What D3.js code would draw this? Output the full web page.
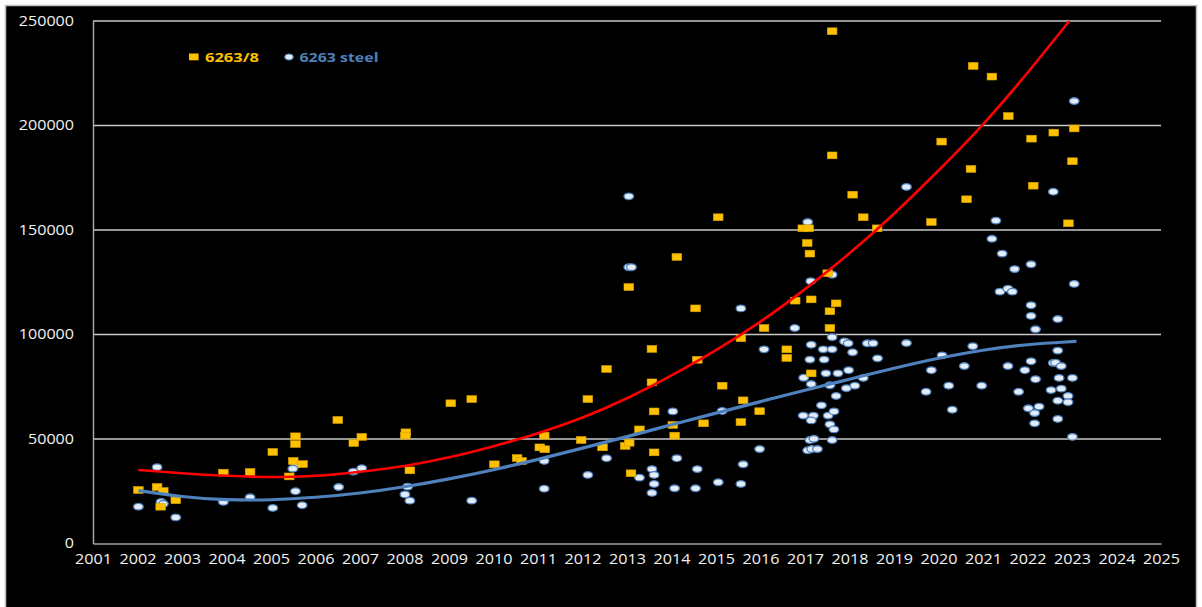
<!DOCTYPE html>
<html>
<head>
<meta charset="utf-8">
<script src="https://cdn.jsdelivr.net/npm/d3@7/dist/d3.min.js"></script>
<style>
  html, body { margin: 0; padding: 0; background: #ffffff; }
  svg { display: block; }
</style>
</head>
<body>
<svg id="chart" width="1202" height="607"></svg>
<script>
// ---- data -------------------------------------------------------------
const seriesNames = ["6263/8", "6263 steel"];

const alloyYears = [
  2002.02, 2002.44, 2002.58, 2002.52, 2002.86, 2003.93, 2004.53, 2005.04, 2005.55, 2005.55,
  2005.50, 2005.71, 2005.41, 2006.50, 2006.86, 2007.04, 2008.03, 2008.02, 2008.12, 2009.04,
  2009.51, 2010.02, 2010.53, 2010.63, 2011.14, 2011.04, 2011.15, 2011.97, 2012.45, 2012.54,
  2012.12, 2013.04, 2012.96, 2013.05, 2013.09, 2013.28, 2013.56, 2013.56, 2013.61, 2013.61,
  2014.03, 2014.07, 2014.12, 2014.54, 2014.58, 2014.72, 2015.14, 2015.05, 2015.56, 2015.61,
  2015.56, 2015.98, 2016.08, 2017.61, 2017.61, 2018.07, 2018.31, 2018.62, 2016.95, 2017.08,
  2017.05, 2017.11, 2017.51, 2016.78, 2017.14, 2017.70, 2017.56, 2017.56, 2016.59, 2016.59,
  2017.14, 2020.78, 2021.20, 2021.57, 2020.07, 2020.73, 2020.63, 2019.84, 2022.09, 2022.59,
  2023.05, 2023.01, 2022.13, 2022.92
];
const alloyValues = [
  25600, 27000, 25100, 17600, 20700, 33900, 34200, 43800, 51300, 47600,
  39500, 38000, 32100, 59100, 48100, 51000, 53200, 51600, 35000, 67100,
  69100, 37900, 40900, 39500, 51600, 46000, 45100, 49500, 46000, 83500,
  69100, 122700, 46700, 48200, 33600, 54600, 93100, 77100, 63200, 43600,
  56700, 51600, 137100, 112500, 87900, 57500, 75500, 156100, 98200, 68500,
  58100, 63300, 103100, 245100, 185700, 166900, 156100, 150800, 150800, 150800,
  143800, 138700, 129300, 116200, 116800, 114900, 111100, 103100, 92900, 88800,
  81400, 228500, 223400, 204500, 192300, 179200, 164700, 153800, 193700, 196600,
  198600, 182900, 171200, 153200
];

const steelYears = [
  2002.44, 2002.02, 2002.53, 2002.58, 2002.86, 2003.93, 2004.53, 2005.04, 2005.55, 2005.49,
  2005.55, 2005.70, 2006.52, 2006.85, 2007.04, 2008.07, 2008.01, 2008.12, 2009.51, 2011.14,
  2011.14, 2013.04, 2013.04, 2013.10, 2015.56, 2016.08, 2014.03, 2015.14, 2012.54, 2012.12,
  2014.12, 2013.56, 2013.61, 2013.28, 2013.61, 2013.56, 2014.07, 2014.58, 2014.54, 2015.05,
  2015.61, 2015.56, 2015.98, 2016.77, 2017.06, 2017.13, 2017.61, 2017.61, 2017.89, 2017.97,
  2018.40, 2018.53, 2017.14, 2017.41, 2017.61, 2018.07, 2018.63, 2017.11, 2017.43, 2016.97,
  2017.47, 2017.74, 2017.98, 2017.14, 2017.56, 2017.93, 2018.12, 2018.31, 2017.70, 2017.37,
  2016.96, 2017.19, 2017.14, 2017.52, 2017.65, 2017.56, 2017.65, 2017.61, 2017.11, 2017.20,
  2017.06, 2017.15, 2017.28, 2019.28, 2019.28, 2019.84, 2019.72, 2020.08, 2020.23, 2020.31,
  2020.58, 2020.77, 2020.97, 2021.29, 2021.20, 2021.43, 2021.71, 2021.38, 2021.56, 2021.66,
  2021.56, 2021.80, 2021.94, 2022.08, 2022.08, 2022.08, 2022.18, 2022.08, 2022.18, 2022.02,
  2022.26, 2022.16, 2022.16, 2022.58, 2022.68, 2022.68, 2022.58, 2022.63, 2022.76, 2022.71,
  2022.53, 2022.76, 2022.68, 2022.68, 2022.91, 2022.91, 2023.05, 2023.05, 2023.01, 2023.01
];
const steelValues = [
  36500, 17600, 19900, 19000, 12500, 19900, 22100, 17000, 37400, 35800,
  25000, 18300, 27000, 34400, 36000, 27200, 23500, 20500, 20500, 39500,
  26200, 166100, 132200, 132200, 112500, 92900, 63200, 63400, 40800, 32800,
  40800, 35600, 32800, 31500, 28500, 24200, 26400, 35600, 26400, 29300,
  37900, 28500, 45200, 103100, 153800, 125500, 128600, 98700, 96700, 95800,
  95800, 95800, 95100, 92900, 92900, 91500, 88600, 88000, 88000, 79300,
  81400, 81400, 82900, 76300, 75700, 74300, 75500, 79200, 70600, 66100,
  61200, 61200, 58900, 61200, 63200, 57000, 54600, 49500, 49500, 50100,
  44600, 45200, 45200, 95900, 170600, 82900, 72600, 90000, 75500, 64000,
  84900, 94400, 75500, 154500, 145800, 138700, 131300, 120500, 121900, 120500,
  84900, 72600, 82900, 133600, 114000, 108900, 102500, 87200, 78600, 64700,
  65500, 62400, 57500, 168300, 107400, 92300, 86400, 86500, 84900, 79200,
  73400, 74100, 68300, 59600, 70600, 67600, 211700, 124200, 79200, 51000
];

// polynomial trend lines, sampled per year
const trendYears = [
  2002.02, 2003, 2004, 2005, 2006, 2007, 2008, 2009, 2010, 2011, 2012,
  2013, 2014, 2015, 2016, 2017, 2018, 2019, 2020, 2021, 2022, 2023, 2023.1
];
const alloyTrend = [
  35200, 33500, 32300, 31600, 32100, 34300, 36800, 41000, 46500, 52500, 60000,
  69200, 80300, 92300, 105800, 121500, 138500, 157500, 178300, 200000, 225000, 251500, 254500
];
const steelTrend = [
  25300, 22200, 20800, 20700, 22000, 24000, 27000, 30800, 35200, 40200, 45600,
  51100, 56800, 62400, 67900, 73400, 78600, 83900, 88800, 92700, 95300, 96600, 96700
];

const xTicks = d3.range(2001, 2026);
const yTicks = [0, 50000, 100000, 150000, 200000, 250000];

// ---- layout -----------------------------------------------------------
const svg = d3.select("#chart");
const W = 1202, H = 607;
const plot = { left: 93, right: 1161, top: 21, bottom: 543.5 };

const x = d3.scaleLinear().domain([2001, 2025]).range([plot.left, plot.right]);
const y = d3.scaleLinear().domain([0, 250000]).range([plot.bottom, plot.top]);

// chart area frame
svg.append("rect")
  .attr("x", 5.5).attr("y", 5.5)
  .attr("width", W - 11).attr("height", H)
  .attr("fill", "#000000")
  .attr("stroke", "#bfbfbf").attr("stroke-width", 1.5);

// widen tick text to the stretched look of the labels
function stretch(sel, perChar) {
  sel.each(function () {
    const t = d3.select(this);
    t.attr("textLength", t.text().length * perChar).attr("lengthAdjust", "spacingAndGlyphs");
  });
}

// horizontal gridlines
svg.append("g")
  .selectAll("line")
  .data(yTicks.filter(d => d > 0))
  .join("line")
  .attr("x1", plot.left).attr("x2", plot.right)
  .attr("y1", d => y(d)).attr("y2", d => y(d))
  .attr("stroke", "#c8c8c8").attr("stroke-width", 1.5);

// y axis
const yAxis = svg.append("g")
  .attr("transform", `translate(${plot.left},0)`)
  .call(d3.axisLeft(y).tickValues(yTicks).tickSize(0).tickPadding(19).tickFormat(d3.format("d")));
yAxis.select(".domain").attr("stroke", "#a6a6a6").attr("stroke-width", 1.5);
yAxis.selectAll("text")
  .attr("fill", "#f2f2f2")
  .style("font-family", "'Open Sans', sans-serif")
  .style("font-size", "14px")
  .call(stretch, 9.2);

// x axis
const xAxis = svg.append("g")
  .attr("transform", `translate(0,${plot.bottom})`)
  .call(d3.axisBottom(x).tickValues(xTicks).tickSize(0).tickPadding(11).tickFormat(d3.format("d")));
xAxis.select(".domain").attr("stroke", "#a6a6a6").attr("stroke-width", 1.5);
xAxis.selectAll("text")
  .attr("fill", "#f2f2f2")
  .style("font-family", "'Open Sans', sans-serif")
  .style("font-size", "14px")
  .call(stretch, 9.25);

// clip for trend lines
svg.append("defs").append("clipPath").attr("id", "plotClip")
  .append("rect")
  .attr("x", plot.left).attr("y", plot.top)
  .attr("width", plot.right - plot.left).attr("height", plot.bottom - plot.top);

const alloyPts = alloyYears.map((d, i) => ({ x: d, y: alloyValues[i] }));
const steelPts = steelYears.map((d, i) => ({ x: d, y: steelValues[i] }));

// markers: 6263 steel (pale ellipses with blue rim)
svg.append("g")
  .selectAll("ellipse")
  .data(steelPts)
  .join("ellipse")
  .attr("cx", d => x(d.x)).attr("cy", d => y(d.y))
  .attr("rx", 4.8).attr("ry", 3.3)
  .attr("fill", "#e4ecf6")
  .attr("stroke", "#4f81bd").attr("stroke-width", 1.3);

// markers: 6263/8 (amber squares)
svg.append("g")
  .selectAll("rect")
  .data(alloyPts)
  .join("rect")
  .attr("x", d => x(d.x) - 4.8).attr("y", d => y(d.y) - 3.4)
  .attr("width", 9.6).attr("height", 6.8)
  .attr("fill", "#ffc000")
  .attr("stroke", "#d9a300").attr("stroke-width", 0.6);

// trend lines
const line = d3.line().x(d => x(d.x)).y(d => y(d.y)).curve(d3.curveBasis);

svg.append("path")
  .datum(trendYears.map((d, i) => ({ x: d, y: steelTrend[i] })))
  .attr("d", line)
  .attr("fill", "none")
  .attr("stroke", "#4f81bd").attr("stroke-width", 3.2);

svg.append("path")
  .datum(trendYears.map((d, i) => ({ x: d, y: alloyTrend[i] })))
  .attr("d", line)
  .attr("clip-path", "url(#plotClip)")
  .attr("fill", "none")
  .attr("stroke", "#ff0000").attr("stroke-width", 2.6);

// legend
const legend = svg.append("g").style("font-family", "'Open Sans', sans-serif")
  .style("font-size", "13px").style("font-weight", "bold");
legend.append("rect")
  .attr("x", 189).attr("y", 53.5).attr("width", 9.6).attr("height", 6.8)
  .attr("fill", "#ffc000");
legend.append("text")
  .attr("x", 205).attr("y", 62).attr("fill", "#ffc000")
  .attr("textLength", 54).attr("lengthAdjust", "spacingAndGlyphs")
  .text(seriesNames[0]);
legend.append("ellipse")
  .attr("cx", 289).attr("cy", 57).attr("rx", 4.2).attr("ry", 3)
  .attr("fill", "#e4ecf6").attr("stroke", "#4f81bd").attr("stroke-width", 1.2);
legend.append("text")
  .attr("x", 299.5).attr("y", 62).attr("fill", "#4f81bd")
  .attr("textLength", 79).attr("lengthAdjust", "spacingAndGlyphs")
  .text(seriesNames[1]);
</script>
</body>
</html>
